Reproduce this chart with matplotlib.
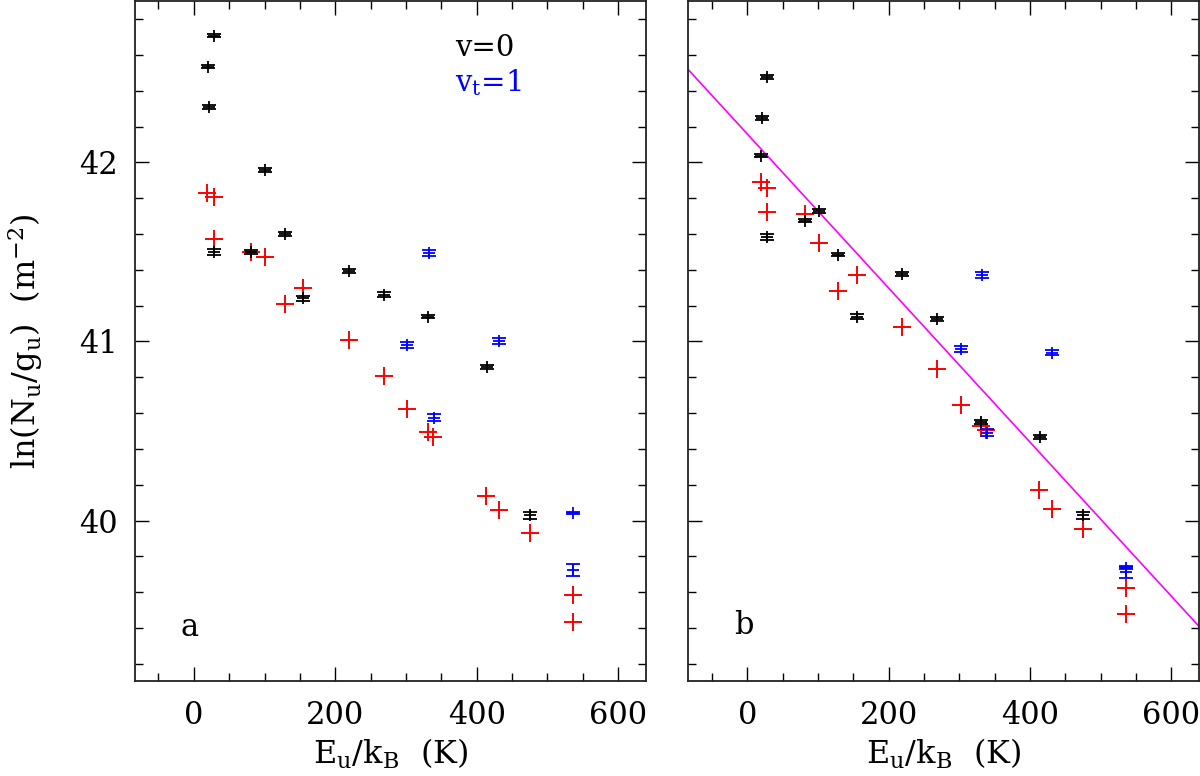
import numpy as np
import matplotlib
matplotlib.use('Agg')
import matplotlib.pyplot as plt
from matplotlib.ticker import MultipleLocator

plt.rcParams['font.family'] = 'serif'
plt.rcParams['font.serif'] = ['DejaVu Serif']
plt.rcParams['mathtext.fontset'] = 'dejavuserif'

# v=0 (black, with error bars)
E_v0 = [20, 21, 28, 28, 81, 101, 129, 155, 219, 269, 331, 414, 475]
lnN_v0_a = [42.535, 42.309, 42.708, 41.498, 41.50, 41.958, 41.60, 41.24, 41.394, 41.262, 41.139, 40.857, 40.03]
lnN_v0_b = [42.037, 42.247, 42.478, 41.582, 41.675, 41.727, 41.485, 41.139, 41.378, 41.127, 40.55, 40.466, 40.03]
err_v0 = [0.01, 0.012, 0.01, 0.018, 0.01, 0.01, 0.01, 0.015, 0.01, 0.012, 0.01, 0.01, 0.02]

# vt=1 (blue, with error bars)
E_vt1 = [302, 332, 339, 431, 536, 536]
lnN_vt1_a = [40.978, 41.492, 40.574, 41.002, 40.042, 39.723]
lnN_vt1_b = [40.957, 41.372, 40.491, 40.937, 39.735, 39.712]
err_vt1 = [0.017, 0.016, 0.02, 0.015, 0.008, 0.035]

# red crosses
E_red = [19, 28, 28, 81, 101, 129, 155, 219, 269, 302, 331, 338, 413, 431, 475, 536, 536]
lnN_red_a = [41.827, 41.805, 41.571, 41.502, 41.47, 41.21, 41.30, 41.009, 40.806, 40.625,
             40.494, 40.466, 40.136, 40.06, 39.931, 39.583, 39.433]
lnN_red_b = [41.888, 41.855, 41.721, 41.712, 41.548, 41.281, 41.372, 41.08, 40.848, 40.643,
             40.526, 40.507, 40.172, 40.067, 39.955, 39.624, 39.476]

# rotation diagram fit (panel b)
fit_intercept = 42.158
fit_Trot = 232.5

xlim = (-83.5, 639.5)
ylim = (39.104, 42.902)

fig = plt.figure(figsize=(12, 7.76), dpi=100)
ax_a = fig.add_axes([0.1123, 0.1224, 0.4261, 0.8766])
ax_b = fig.add_axes([0.5736, 0.1224, 0.4258, 0.8766])

eb_kw = dict(fmt='+', ms=8, mew=1.3, elinewidth=1.3, capsize=5, capthick=1.3, ls='none')

for ax, y0, y1, yr in [(ax_a, lnN_v0_a, lnN_vt1_a, lnN_red_a),
                       (ax_b, lnN_v0_b, lnN_vt1_b, lnN_red_b)]:
    ax.plot(E_red, yr, '+', color='#ff0000', ms=13, mew=1.4, zorder=2)
    ax.errorbar(E_v0, y0, yerr=err_v0, color='black', zorder=3, **eb_kw)
    ax.errorbar(E_vt1, y1, yerr=err_vt1, color='#0000ff', zorder=3, **eb_kw)
    ax.set_xlim(*xlim)
    ax.set_ylim(*ylim)
    ax.xaxis.set_major_locator(MultipleLocator(200))
    ax.xaxis.set_minor_locator(MultipleLocator(50))
    ax.yaxis.set_major_locator(MultipleLocator(1))
    ax.yaxis.set_minor_locator(MultipleLocator(0.2))
    ax.tick_params(which='both', direction='in', top=True, right=True, width=1.0,
                   labelsize=22)
    ax.tick_params(axis='x', pad=14)
    ax.tick_params(axis='y', pad=12)
    ax.tick_params(which='major', length=10)
    ax.tick_params(which='minor', length=5.5)
    for s in ax.spines.values():
        s.set_linewidth(1.3)
        s.set_color('#222222')
    ax.set_xlabel(r'$\mathrm{E_u/k_B}$  (K)', fontsize=23)
    ax.xaxis.set_label_coords(0.5, -0.082)

xs = np.array(xlim)
ax_b.plot(xs, fit_intercept - xs / fit_Trot, color='#ff00ff', lw=1.2, zorder=1)

ax_a.set_ylabel(r'$\mathrm{ln(N_u/g_u)}$  $\mathrm{(m^{-2})}$', fontsize=23)
ax_a.yaxis.set_label_coords(-0.175, 0.5)
ax_b.tick_params(labelleft=False)

ax_a.text(0.626, 0.93, 'v=0', transform=ax_a.transAxes, fontsize=21,
          color='black', va='center', ha='left')
ax_a.text(0.626, 0.88, r'$\mathrm{v_t}$=1', transform=ax_a.transAxes, fontsize=21,
          color='#0000ff', va='center', ha='left')
ax_a.text(0.09, 0.079, 'a', transform=ax_a.transAxes, fontsize=22, va='center')
ax_b.text(0.09, 0.081, 'b', transform=ax_b.transAxes, fontsize=22, va='center')

fig.savefig('out.png', dpi=100)
